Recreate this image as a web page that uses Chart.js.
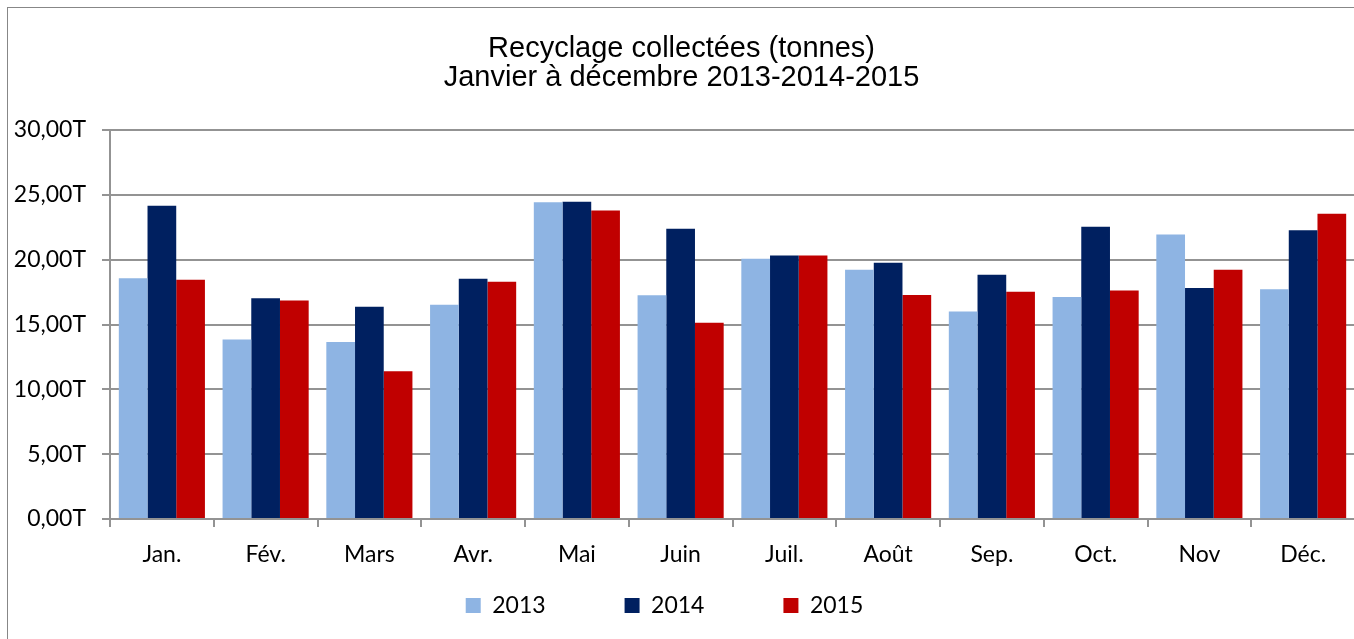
<!DOCTYPE html>
<html>
<head>
<meta charset="utf-8">
<script src="https://cdn.jsdelivr.net/npm/chart.js@4"></script>
<style>
  html, body { margin: 0; padding: 0; background: #fff; overflow: hidden; }
  #frame {
    position: absolute; left: 7px; top: 7px;
    width: 1400px; height: 700px;
    border-left: 1px solid #878787; border-top: 1px solid #878787;
  }
  #chart { display: block; }
</style>
</head>
<body>
<div id="frame"><canvas id="chart" width="1347" height="671"></canvas></div>
<script>
// months and tonnes per year
const months = ['Jan.', 'Fév.', 'Mars', 'Avr.', 'Mai', 'Juin', 'Juil.', 'Août', 'Sep.', 'Oct.', 'Nov', 'Déc.'];
const y2013 = [18.56, 13.85, 13.65, 16.52, 24.42, 17.25, 20.07, 19.22, 16.01, 17.12, 21.95, 17.71];
const y2014 = [24.16, 17.02, 16.37, 18.53, 24.47, 22.38, 20.33, 19.76, 18.84, 22.54, 17.81, 22.26];
const y2015 = [18.45, 16.86, 11.39, 18.30, 23.80, 15.14, 20.33, 17.27, 17.53, 17.63, 19.22, 23.54];
const yTicks = [0, 5, 10, 15, 20, 25, 30];

const gridGray = '#939393';
const labelFont = { family: 'Lato, "Open Sans", sans-serif', size: 23 };

// the legend sits closer to the axis and a bit left of centre in the original
const legendNudge = {
  id: 'legendNudge',
  afterLayout(chart) {
    const lg = chart.legend;
    if (!lg) return;
    lg.top -= 54; lg.bottom -= 54;
    lg.left -= 17; lg.right -= 17;
  }
};

new Chart(document.getElementById('chart'), {
  type: 'bar',
  data: {
    labels: months,
    datasets: [
      { label: '2013', data: y2013, backgroundColor: '#8EB4E3' },
      { label: '2014', data: y2014, backgroundColor: '#002060' },
      { label: '2015', data: y2015, backgroundColor: '#C00000' },
    ],
  },
  options: {
    responsive: false,
    animation: false,
    datasets: { bar: { categoryPercentage: 0.83, barPercentage: 1.0 } },
    layout: { padding: 0 },
    plugins: {
      title: {
        display: true,
        text: ['Recyclage collectées (tonnes)', 'Janvier à décembre 2013-2014-2015'],
        color: '#000',
        font: { family: '"Liberation Sans", Arial, sans-serif', size: 29, weight: 'normal', lineHeight: 1.0 },
        padding: { top: 26.5, bottom: 37.5 },
      },
      legend: {
        position: 'bottom',
        maxHeight: 110,
        labels: {
          color: '#000',
          font: labelFont,
          boxWidth: 15,
          boxHeight: 15,
          padding: 79,
        },
      },
      tooltip: { enabled: false },
    },
    scales: {
      x: {
        afterFit(scale) { scale.height = 50; },
        grid: {
          drawOnChartArea: false,
          drawTicks: true,
          tickLength: 8,
          color: gridGray,
          lineWidth: 2,
        },
        border: { display: true, color: gridGray, width: 2 },
        ticks: { color: '#000', font: labelFont, padding: 14 },
      },
      y: {
        min: 0,
        max: 30,
        afterFit(scale) { scale.width = 102; },
        afterBuildTicks(scale) { scale.ticks = yTicks.map(v => ({ value: v })); },
        grid: { color: gridGray, lineWidth: 2, tickLength: 8 },
        border: { display: true, color: gridGray, width: 2 },
        ticks: {
          color: '#000',
          font: labelFont,
          padding: 16,
          callback: v => v.toFixed(2).replace('.', ',') + 'T',
        },
      },
    },
  },
  plugins: [legendNudge],
});
</script>
</body>
</html>
